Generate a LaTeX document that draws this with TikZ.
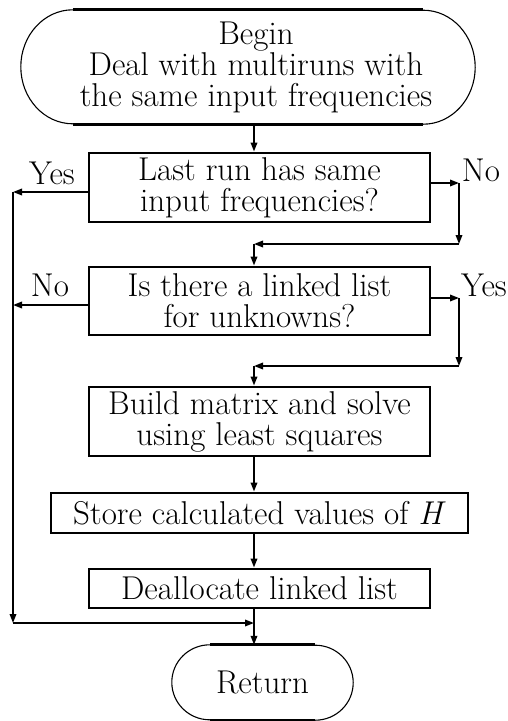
\documentclass[tikz,border=0pt]{standalone}
\usepackage{fontspec}
\usetikzlibrary{arrows.meta}
\tikzset{
  box/.style={draw, line width=2.9pt, rectangle, inner sep=0pt, align=center},
  term/.style={rectangle, inner sep=0pt, align=center},
  conn/.style={line width=1.8pt},
  arr/.style={conn, -{Triangle[length=9pt,width=6.5pt]}},
  lbl/.style={inner sep=0pt},
}
\begin{document}
\begin{tikzpicture}[x=1pt, y=-1pt,
  font=\fontsize{33}{31}\selectfont\addfontfeatures{LetterSpace=4,FakeBold=0.6}]
\useasboundingbox (0,0) rectangle (507,721);

% start terminal: the outline sits 8pt left of the text block
\node[term, minimum width=454pt, minimum height=114pt] (begin) at (256,67)
  {Begin\\Deal with multiruns with\\the same input frequencies};
\draw[line width=2.9pt] ([xshift=44pt]begin.north west) -- ([xshift=-60pt]begin.north east);
\draw[line width=2.9pt] ([xshift=44pt]begin.south west) -- ([xshift=-60pt]begin.south east);
\draw[line width=1.1pt] ([xshift=44pt]begin.north west)
  arc[start angle=-90, end angle=-270, x radius=52, y radius=57];
\draw[line width=1.1pt] ([xshift=-60pt]begin.south east)
  arc[start angle=90, end angle=-90, x radius=52, y radius=57];

% end terminal
\node[term, minimum width=181pt, minimum height=75pt] (ret) at (262.5,682.5) {Return};
\draw[line width=2.9pt] ([xshift=38pt]ret.north west) -- ([xshift=-38pt]ret.north east);
\draw[line width=2.9pt] ([xshift=38pt]ret.south west) -- ([xshift=-38pt]ret.south east);
\draw[line width=1.1pt] ([xshift=38pt]ret.north west)
  arc[start angle=-90, end angle=-270, x radius=38, y radius=37.5];
\draw[line width=1.1pt] ([xshift=-38pt]ret.south east)
  arc[start angle=90, end angle=-90, x radius=38, y radius=37.5];

% process and decision boxes
\node[box, minimum width=341pt, minimum height=69pt] (q1) at (259.5,187.5)
  {Last run has same\\input frequencies?};
\node[box, minimum width=341pt, minimum height=68pt] (q2) at (259.5,301)
  {Is there a linked list\\for unknowns?};
\node[box, minimum width=341pt, minimum height=69pt] (build) at (259.5,421.5)
  {Build matrix and solve\\using least squares};
\node[box, minimum width=417pt, minimum height=40pt] (store) at (259.5,513)
  {Store calculated values of \textit{H}};
\node[box, minimum width=341pt, minimum height=39pt] (dealloc) at (259.5,588.5)
  {Deallocate linked list};

% routing points
\coordinate (trunk) at (254,0);
\coordinate (rail) at (13,0);
\coordinate (side) at (459,0);
\coordinate (y1L) at (0,192);
\coordinate (y1R) at (0,183);
\coordinate (m1) at (0,244);
\coordinate (y2L) at (0,305);
\coordinate (y2R) at (0,298);
\coordinate (m2) at (0,366);
\coordinate (join) at (254,623);

% main trunk
\draw[arr] (begin.south -| trunk) -- (q1.north -| trunk);

% first decision: Yes -> left rail, No -> right loop
\draw[arr] (q1.west |- y1L) -- (rail |- y1L);
\draw[arr] (q1.east |- y1R) -- (side |- y1R);
\draw[arr] (side |- y1R) -- (side |- m1);
\draw[arr] (side |- m1) -- (trunk |- m1);
\draw[arr] (trunk |- m1) -- (q2.north -| trunk);

% second decision: No -> left rail, Yes -> right loop
\draw[arr] (q2.west |- y2L) -- (rail |- y2L);
\draw[arr] (q2.east |- y2R) -- (side |- y2R);
\draw[arr] (side |- y2R) -- (side |- m2);
\draw[arr] (side |- m2) -- (trunk |- m2);
\draw[arr] (trunk |- m2) -- (build.north -| trunk);

\draw[arr] (build.south -| trunk) -- (store.north -| trunk);
\draw[arr] (store.south -| trunk) -- (dealloc.north -| trunk);

% left rail back to the exit
\draw[arr] (rail |- y1L) -- (rail |- join);
\draw[arr] (rail |- join) -- (join);
\draw[conn] (dealloc.south -| trunk) -- (join);
\draw[arr] (join) -- (ret.north -| trunk);

% branch labels
\node[lbl] (yesL) at (52,173) {Yes};
\node[lbl] (noL) at (50,285) {No};
\node[lbl] (noR) at (481,170) {No};
\node[lbl] (yesR) at (484,285) {Yes};
\end{tikzpicture}
\end{document}
